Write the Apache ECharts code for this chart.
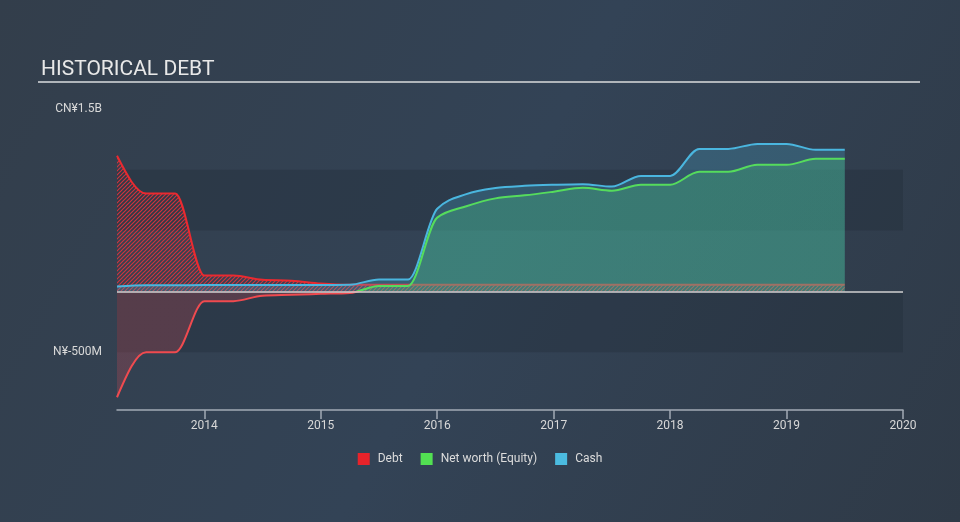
<!DOCTYPE html>
<html><head><meta charset="utf-8">
<script src="https://cdn.jsdelivr.net/npm/echarts@6/dist/echarts.min.js"></script>
<style>html,body{margin:0;padding:0;background:#323f4d;}#c{width:960px;height:522px;}</style>
</head><body><div id="c"></div>
<script>
// ---- data (values in millions CN¥) ----
const dates = [2013.25,2013.5,2013.75,2014.0,2014.25,2014.5,2014.75,2015.0,2015.25,2015.5,2015.75,2016.0,2016.25,2016.5,2016.75,2017.0,2017.25,2017.5,2017.75,2018.0,2018.25,2018.5,2018.75,2019.0,2019.25,2019.5];
const debt   = [1115,805,805,130,130,95,88,65,55,55,55,55,55,55,55,55,55,55,55,55,55,55,55,55,55,55];
const equity = [-870,-500,-500,-80,-80,-35,-28,-20,-12,45,45,607,700,765,790,820,852,828,877,877,984,984,1041,1041,1090,1090];
const cash   = [40,50,50,52,52,52,52,52,55,98,98,680,800,850,868,877,882,862,950,950,1172,1172,1213,1213,1164,1164];
const xTicks = [2014,2015,2016,2017,2018,2019,2020];
const yTickValues = [-500,1500];
const yTickLabels = ['N¥-500M','CN¥1.5B'];
const bandRanges = [[-500,0],[500,1000]];

function pair(vals){ return dates.map((d,i)=>[d,vals[i]]); }
function hatch(){
  const c=document.createElement('canvas'); c.width=4; c.height=4;
  const g=c.getContext('2d');
  g.strokeStyle='rgba(232,52,60,0.85)'; g.lineWidth=1.2;
  g.beginPath();
  g.moveTo(0,4); g.lineTo(4,0);
  g.moveTo(-1,1); g.lineTo(1,-1);
  g.moveTo(3,5); g.lineTo(5,3);
  g.stroke();
  return c;
}
const HATCH = hatch();
// monotone cubic (Fritsch-Carlson, as d3.curveMonotoneX) through pixel points
function monoSeg(P){
  const n=P.length, x=P.map(p=>p[0]), y=P.map(p=>p[1]);
  const s=[]; for(let i=0;i<n-1;i++){const h=x[i+1]-x[i]; s.push(h?(y[i+1]-y[i])/h:0);}
  const m=new Array(n).fill(0);
  for(let i=1;i<n-1;i++){
    const h0=x[i]-x[i-1],h1=x[i+1]-x[i],s0=s[i-1],s1=s[i],p=(s0*h1+s1*h0)/(h0+h1);
    m[i]=(Math.sign(s0)+Math.sign(s1))*Math.min(Math.abs(s0),Math.abs(s1),0.5*Math.abs(p))||0;
  }
  m[0]=(3*s[0]-m[1])/2;
  m[n-1]=(3*s[n-2]-m[n-2])/2;
  let d='';
  for(let i=0;i<n-1;i++){
    const h=(x[i+1]-x[i])/3;
    d+=' C'+(x[i]+h)+','+(y[i]+h*m[i])+' '+(x[i+1]-h)+','+(y[i+1]-h*m[i+1])+' '+x[i+1]+','+y[i+1];
  }
  return d;
}
function split(up,down,yb){
  const H=522,f=Math.min(1,Math.max(0,yb/H));
  return {type:'linear',global:true,x:0,y:0,x2:0,y2:H,
    colorStops:[{offset:0,color:up},{offset:f,color:up},{offset:f,color:down},{offset:1,color:down}]};
}
function makeRender(vals, strokeFn, fillFn){
  return function(params, api){
    if(params.dataIndex!==0) return null;
    const P = dates.map((d,i)=>api.coord([d, vals[i]]));
    const yb = api.coord([dates[0],0])[1];
    const seg = monoSeg(P);
    const last = P[P.length-1];
    const line = 'M'+P[0][0]+','+P[0][1]+seg;
    const area = 'M'+P[0][0]+','+yb+' L'+P[0][0]+','+P[0][1]+seg+' L'+last[0]+','+yb+' Z';
    return {type:'group',children:[
      {type:'path',shape:{pathData:area},style:{fill:fillFn(yb),stroke:'none'}},
      {type:'path',shape:{pathData:line},style:{fill:'none',stroke:strokeFn(yb),lineWidth:2,lineJoin:'round'}}
    ]};
  };
}
const FONT='Roboto';
const chart=echarts.init(document.getElementById('c'),null,{renderer:'canvas'});
chart.setOption({
  backgroundColor:{type:'linear',x:0,y:0,x2:1,y2:1,colorStops:[{offset:0,color:'#333e4b'},{offset:0.5,color:'#334356'},{offset:1,color:'#2f3a47'}]},
  animation:false,
  title:{text:'HISTORICAL DEBT',left:36,top:54,textStyle:{color:'#e8e8e8',fontSize:21,fontWeight:'normal',fontFamily:FONT}},
  graphic:[{type:'line',shape:{x1:38,y1:82,x2:920,y2:82},style:{stroke:'#b0b5ba',lineWidth:2},silent:true}],
  grid:{left:117,right:57,top:109,bottom:112},
  legend:{bottom:52,left:'center',icon:'rect',itemWidth:12,itemHeight:12,itemGap:18,
    textStyle:{color:'#dcdcdc',fontSize:12,fontFamily:FONT,padding:[0,0,0,3]},
    data:[{name:'Debt',itemStyle:{color:'#e8232a'}},{name:'Net worth (Equity)',itemStyle:{color:'#52e052'}},{name:'Cash',itemStyle:{color:'#4bbbe0'}}]},
  xAxis:{type:'value',min:dates[0],max:2020,
    axisLine:{onZero:false,lineStyle:{color:'#a2abb5',width:1.5}},
    axisTick:{show:true,length:9,customValues:xTicks,lineStyle:{color:'#a2abb5',width:1.5}},
    axisLabel:{customValues:xTicks,color:'#d8d8d8',fontSize:12,fontFamily:FONT,margin:10,formatter:v=>String(v)},
    splitLine:{show:false}},
  yAxis:{type:'value',min:-975,max:1500,
    axisLine:{show:false},axisTick:{show:false},splitLine:{show:false},
    axisLabel:{customValues:yTickValues,color:'#d8d8d8',fontSize:12,fontFamily:FONT,margin:15,
      formatter:v=>{const i=yTickValues.indexOf(v);return i>=0?yTickLabels[i]:'';}}},
  series:[
    {name:'_bands',type:'line',z:1,data:[],silent:true,
     markArea:{silent:true,itemStyle:{color:'rgba(28,38,50,0.28)'},
       data:bandRanges.map(r=>[{yAxis:r[0]},{yAxis:r[1]}])},
     markLine:{silent:true,symbol:'none',label:{show:false},lineStyle:{color:'#d2d2d2',width:1.5,type:'solid'},
       data:[{yAxis:0}]}},
    {name:'Debt',type:'custom',z:2,data:pair(debt),encode:{x:0,y:1},clip:false,silent:true,
     itemStyle:{color:'#e8232a'},
     renderItem:makeRender(debt,()=>'#ea2a30',()=>({image:HATCH,repeat:'repeat'}))},
    {name:'Cash',type:'custom',z:3,data:pair(cash),encode:{x:0,y:1},clip:false,silent:true,
     itemStyle:{color:'#4bbbe0'},
     renderItem:makeRender(cash,()=>'#4ab6df',()=>'rgba(74,182,223,0.24)')},
    {name:'Net worth (Equity)',type:'custom',z:4,data:pair(equity),encode:{x:0,y:1},clip:false,silent:true,
     itemStyle:{color:'#52e052'},
     renderItem:makeRender(equity,yb=>split('#55dc5c','#f04a4f',yb),yb=>split('rgba(72,200,128,0.30)','rgba(235,75,85,0.22)',yb))}
  ]
});
</script></body></html>
